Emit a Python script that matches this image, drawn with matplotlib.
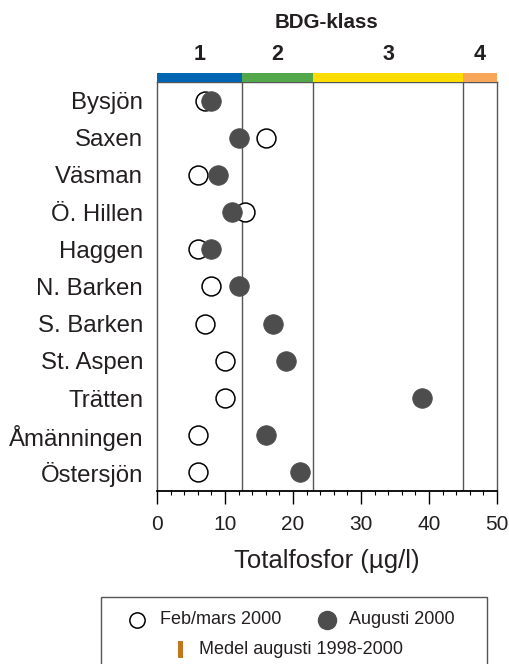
import matplotlib
matplotlib.use("Agg")
import matplotlib.pyplot as plt
from matplotlib.patches import Rectangle
from matplotlib.lines import Line2D
from matplotlib.ticker import MultipleLocator

plt.rcParams['font.family'] = ['Liberation Sans', 'DejaVu Sans']

lakes = ["Bysjön", "Saxen", "Väsman", "Ö. Hillen", "Haggen", "N. Barken",
         "S. Barken", "St. Aspen", "Trätten", "Åmänningen", "Östersjön"]
feb_mars_2000 = [7, 16, 6, 13, 6, 8, 7, 10, 10, 6, 6]
augusti_2000 = [8, 12, 9, 11, 8, 12, 17, 19, 39, 16, 21]
class_bounds = [0, 12.5, 23, 45, 50]
class_labels = ["1", "2", "3", "4"]
class_colors = ["#0066b3", "#52a84a", "#ffdd00", "#f8a65a"]

TXT = "#231f20"
W, H = 509, 664
fig = plt.figure(figsize=(W / 100, H / 100), dpi=100)
ax = fig.add_axes([157 / W, (H - 491) / H, (497 - 157) / W, (491 - 82) / H])

ypos = list(range(len(lakes)))
for b in class_bounds[1:-1]:
    ax.axvline(b, color="#555555", lw=1.0, zorder=1)

ax.scatter(feb_mars_2000, ypos, s=185, facecolor="white", edgecolor="black",
           linewidth=1.1, zorder=3)
ax.scatter(augusti_2000, ypos, s=200, facecolor="#4d4d4d", edgecolor="#4d4d4d",
           linewidth=0.5, zorder=4)

ax.set_xlim(0, 50)
ax.set_ylim(len(lakes) - 0.5, -0.5)
ax.set_yticks(ypos)
ax.set_yticklabels(lakes, fontsize=17.3, color=TXT)
ax.tick_params(axis="y", length=0, pad=10)
ax.xaxis.set_major_locator(MultipleLocator(10))
ax.xaxis.set_minor_locator(MultipleLocator(2))
ax.tick_params(axis="x", which="major", direction="out", length=9, width=1,
               labelsize=15, labelcolor=TXT, pad=8)
ax.tick_params(axis="x", which="minor", direction="out", length=3, width=0.8)
ax.set_xlabel("Totalfosfor (µg/l)", fontsize=18.5, color=TXT, labelpad=11)

for side in ["left", "right", "top"]:
    ax.spines[side].set_color("#555555")
    ax.spines[side].set_linewidth(1.0)
ax.spines["bottom"].set_color("black")
ax.spines["bottom"].set_linewidth(1.3)

# class colour bar and labels
bar_h = 9 / 409
trans = ax.get_xaxis_transform()
for i in range(len(class_labels)):
    x0, x1 = class_bounds[i], class_bounds[i + 1]
    ax.add_patch(Rectangle((x0, 1.0), x1 - x0, bar_h, transform=trans,
                           facecolor=class_colors[i], edgecolor="none",
                           clip_on=False, zorder=5))
    ax.text((x0 + x1) / 2, (491 - 55) / 409, class_labels[i], transform=trans,
            ha="center", va="center", fontsize=15.5, fontweight="bold", color=TXT)
ax.text(25, (491 - 23) / 409, "BDG-klass", transform=trans, ha="center",
        va="center", fontsize=14.8, fontweight="bold", color=TXT)

# legend box
def fx(px):
    return px / W

def fy(py):
    return (H - py) / H

fig.add_artist(Rectangle((fx(101), fy(670)), fx(487) - fx(101), fy(597) - fy(670),
                         transform=fig.transFigure, facecolor="white",
                         edgecolor="#555555", lw=1.0))
fig.add_artist(Line2D([fx(137)], [fy(620)], transform=fig.transFigure, marker="o",
                      markersize=11, markerfacecolor="white", markeredgecolor="black",
                      markeredgewidth=1.1, linestyle="none"))
fig.text(fx(160), fy(620), "Feb/mars 2000", fontsize=13, color=TXT,
         ha="left", va="center")
fig.add_artist(Line2D([fx(327)], [fy(620)], transform=fig.transFigure, marker="o",
                      markersize=13, markerfacecolor="#4d4d4d", markeredgecolor="#4d4d4d",
                      linestyle="none"))
fig.text(fx(349), fy(620), "Augusti 2000", fontsize=13, color=TXT,
         ha="left", va="center")
fig.add_artist(Rectangle((fx(178), fy(658)), fx(183) - fx(178), fy(641) - fy(658),
                         transform=fig.transFigure, facecolor="#c4761c",
                         edgecolor="none"))
fig.text(fx(199), fy(650), "Medel augusti 1998-2000", fontsize=13, color=TXT,
         ha="left", va="center")

fig.savefig("out.png", dpi=100)
